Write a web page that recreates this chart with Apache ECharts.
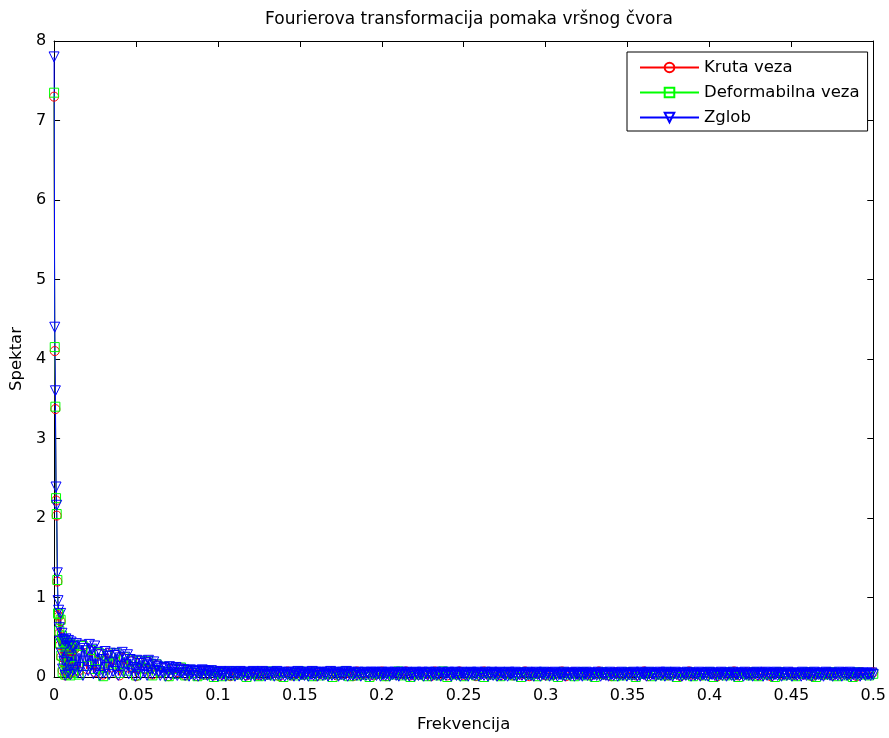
<!DOCTYPE html>
<html>
<head>
<meta charset="utf-8">
<script src="https://cdn.jsdelivr.net/npm/echarts@6/dist/echarts.min.js"></script>
<style>html,body{margin:0;padding:0;background:#fff;}#c{width:889px;height:738px;}</style>
</head>
<body>
<div id="c"></div>
<script>
// ---- data ----
const titleText = 'Fourierova transformacija pomaka vršnog čvora';
const seriesNames = ['Kruta veza', 'Deformabilna veza', 'Zglob'];
// frequency bins: dense head near 0, then regular bins
const freqHead = [0,0.0004,0.0008,0.0012,0.0016,0.002,0.0024,0.0028,0.0032,0.0036,
  0.004,0.0044,0.0048,0.0052,0.0056,0.006,0.0064,0.0068,0.0072,0.0076,
  0.008,0.0084,0.0088,0.0092,0.0096,0.01,0.0104,0.0108,0.0112,0.0116];
const tailStartRG = 0.0125, tailStepRG = 0.0025;  // Kruta / Deformabilna tail bins
const tailStartZ = 0.012, tailStepZ = 0.0008;     // Zglob tail bins

const krutaHead = [7.3,4.1,3.37,2.22,2.03,1.2,0.78,0.76,0.55,0.4,0.7,0.25,0.5,0.08,0.42,0.18,0.4,0.02,0.44,0.15,0.38,0.05,0.41,0.22,0.35,0.04,0.4,0.12,0.33,0.06];
const krutaTail = [0.35,0.08,0.4,0.1,0.33,
  0.06,0.29,0.03,0.3,0.12,0.28,0.02,0.24,
  0.12,0.2,0.01,0.18,0.1,0.19,0.03,0.15,
  0.05,0.12,0.01,0.1,0.06,0.11,
  0.02,0.08,0.05,0.01,0.07,0.03,0.08,0.02,
  0.07,0.03,0.06,0.01,0.05,0.04,0.07,0.02,0.05,0.06,
  0.02,0.07,0.03,0.04,0.06,0.01,0.05,0.07,0.02,0.04,
  0.06,0.03,0.05,0.07,0.01,0.04,0.06,0.03,0.07,0.02,
  0.05,0.04,0.06,0.01,0.07,0.03,0.05,0.06,0.02,0.04,
  0.07,0.01,0.05,0.06,0.03,0.04,0.07,0.02,0.05,0.03,
  0.06,0.04,0.01,0.07,0.03,0.05,0.02,0.06,0.04,0.07,
  0.02,0.05,0.06,0.01,0.04,0.07,0.03,0.05,0.06,0.02,
  0.04,0.06,0.02,0.05,0.03,0.07,0.01,0.06,0.04,0.05,
  0.02,0.06,0.03,0.05,0.07,0.01,0.04,0.06,0.03,0.05,
  0.06,0.02,0.04,0.07,0.03,0.05,0.01,0.06,0.04,0.03,
  0.05,0.06,0.02,0.04,0.07,0.01,0.05,0.03,0.06,0.04,
  0.02,0.06,0.05,0.01,0.04,0.07,0.03,0.05,0.02,0.06,
  0.04,0.05,0.01,0.06,0.03,0.05,0.07,0.02,0.04,0.06,
  0.03,0.05,0.02,0.06,0.04,0.01,0.05,0.06,0.03,0.04,
  0.06,0.02,0.05,0.03,0.06,0.01,0.04,0.05,0.03,0.06,
  0.02,0.05,0.04,0.06,0.03,0.05,0.01,0.06,0.04,0.05,
  0.06];

const deformHead = [7.35,4.15,3.4,2.25,2.05,1.22,0.8,0.79,0.58,0.42,0.72,0.27,0.52,0.06,0.44,0.2,0.42,0.03,0.45,0.13,0.4,0.07,0.43,0.2,0.37,0.02,0.41,0.14,0.35,0.05];
const deformTail = [0.4,0.03,0.39,0.14,0.34,
  0.1,0.3,0.01,0.27,0.17,0.3,0.05,0.25,
  0.08,0.21,0.02,0.2,0.11,0.2,0.02,0.16,
  0.06,0.13,0.01,0.1,0.04,0.12,
  0.02,0.09,0.05,0.01,0.08,0.03,0.08,0.0,
  0.05,0.01,0.06,0.02,0.07,0.03,0.05,0.0,0.06,0.04,
  0.01,0.06,0.03,0.07,0.02,0.05,0.0,0.06,0.04,0.02,
  0.07,0.03,0.05,0.01,0.06,0.02,0.05,0.04,0.0,0.06,
  0.03,0.07,0.01,0.05,0.02,0.06,0.03,0.0,0.05,0.04,
  0.06,0.01,0.05,0.03,0.07,0.02,0.04,0.0,0.06,0.03,
  0.05,0.01,0.06,0.04,0.02,0.07,0.0,0.05,0.03,0.06,
  0.01,0.04,0.06,0.02,0.05,0.0,0.06,0.03,0.05,0.01,
  0.06,0.04,0.02,0.05,0.0,0.06,0.03,0.04,0.01,0.06,
  0.05,0.02,0.04,0.0,0.06,0.03,0.05,0.01,0.04,0.06,
  0.02,0.05,0.0,0.04,0.06,0.03,0.05,0.01,0.04,0.02,
  0.06,0.03,0.0,0.05,0.04,0.06,0.01,0.05,0.03,0.02,
  0.06,0.04,0.0,0.05,0.03,0.06,0.01,0.04,0.05,0.02,
  0.06,0.0,0.04,0.05,0.02,0.06,0.03,0.0,0.05,0.04,
  0.02,0.06,0.01,0.05,0.03,0.04,0.0,0.06,0.02,0.05,
  0.03,0.01,0.05,0.04,0.06,0.02,0.0,0.05,0.03,0.04,
  0.06,0.01,0.05,0.02,0.04,0.0,0.06,0.03,0.05,0.02,
  0.04];

const zglobHead = [7.8,4.4,3.6,2.39,2.16,1.31,0.96,0.84,0.62,0.45,0.8,0.3,0.55,0.1,0.47,0.2,0.45,0.02,0.48,0.18,0.42,0.05,0.46,0.25,0.4,0.03,0.44,0.15,0.38,0.08];
const zglobTail = [
  0.38,0.1,0.42,0.05,0.3,0.12,0.4,0.02,0.36,0.2,0.33,0.08,0.41,0.15,0.35,0.04,0.39,
  0.08,0.31,0.15,0.02,0.28,0.22,0.05,0.32,0.12,0.26,0.03,0.3,0.18,0.07,0.27,0.1,0.29,0.02,0.24,0.13,0.31,0.06,0.25,0.16,0.28,
  0.04,0.22,0.09,0.19,0.12,0.01,0.21,0.09,0.17,0.03,0.2,0.14,0.06,0.18,0.02,0.21,0.1,0.16,0.04,0.19,0.08,0.15,
  0.13,0.07,0.02,0.11,0.05,0.12,0.01,0.1,0.06,0.13,0.03,0.09,0.11,0.04,0.12,0.02,0.08,0.1,0.05,
  0.05,0.09,0.02,0.08,0.06,0.01,0.09,0.04,0.07,0.02,0.08,0.05,0.01,0.07,0.04,0.09,0.03,0.08,0.06,0.02,0.07,0.04,0.08,0.01,0.06,
  0.03,0.06,0.01,0.05,0.07,0.02,0.04,0.06,0.01,0.05,0.03,0.07,0.02,0.05,0.04,0.01,0.06,0.03,0.05,0.07,
  0.02,0.04,0.06,0.01,0.05,0.03,0.06,0.02,0.05,0.07,0.01,0.04,0.06,0.03,0.05,0.02,0.07,0.04,0.01,0.06,
  0.03,0.05,0.02,0.06,0.04,0.01,0.05,0.07,0.03,0.05,0.02,0.06,0.04,0.01,0.05,0.03,0.06,0.02,0.04,0.06,
  0.01,0.05,0.04,0.07,0.01,0.05,0.03,0.06,0.02,0.04,0.06,0.01,0.05,0.03,0.07,0.02,0.04,0.06,0.01,0.05,
  0.04,0.06,0.02,0.05,0.03,0.06,0.01,0.04,0.07,0.02,0.05,0.03,0.06,0.04,0.01,0.05,0.03,0.06,0.02,0.04,
  0.07,0.01,0.05,0.03,0.06,0.02,0.04,0.05,0.02,0.06,0.04,0.01,0.05,0.03,0.06,0.02,0.05,0.04,0.01,0.06,
  0.03,0.05,0.06,0.02,0.04,0.05,0.01,0.06,0.03,0.05,0.02,0.04,0.06,0.01,0.05,0.03,0.04,0.06,0.02,0.05,
  0.01,0.04,0.06,0.03,0.05,0.02,0.06,0.04,0.01,0.05,0.03,0.05,0.01,0.06,0.04,0.02,0.05,0.03,0.06,0.01,
  0.04,0.05,0.02,0.06,0.04,0.01,0.05,0.03,0.06,0.02,0.04,0.05,0.01,0.06,0.03,0.04,0.02,0.05,0.06,0.03,
  0.01,0.05,0.04,0.06,0.02,0.05,0.03,0.01,0.06,0.04,0.05,0.02,0.05,0.01,0.04,0.06,0.03,0.05,0.02,0.04,
  0.06,0.01,0.05,0.03,0.04,0.02,0.06,0.04,0.01,0.05,0.03,0.06,0.02,0.04,0.05,0.01,0.03,0.06,0.02,0.05,
  0.04,0.02,0.05,0.01,0.06,0.03,0.04,0.05,0.02,0.06,0.01,0.04,0.03,0.05,0.02,0.05,0.04,0.01,0.06,0.03,
  0.05,0.02,0.04,0.01,0.05,0.06,0.03,0.04,0.01,0.05,0.03,0.06,0.02,0.04,0.05,0.01,0.03,0.05,0.02,0.06,
  0.04,0.01,0.05,0.03,0.04,0.02,0.06,0.01,0.04,0.05,0.03,0.02,0.05,0.04,0.01,0.06,0.03,0.05,0.02,0.04,
  0.01,0.05,0.03,0.06,0.02,0.04,0.05,0.01,0.04,0.03,0.05,0.02,0.06,0.04,0.01,0.05,0.03,0.04,0.02,0.05,
  0.01,0.06,0.03,0.04,0.02,0.05,0.04,0.01,0.05,0.03,0.06,0.02,0.04,0.05,0.01,0.04,0.03,0.05,0.02,0.06,
  0.03,0.04,0.01,0.05,0.02,0.06,0.04,0.03,0.05,0.01,0.04,0.06,0.02,0.05,0.03,0.04,0.01,0.05,0.03,0.06,
  0.02,0.04,0.05,0.01,0.06,0.03,0.04,0.02,0.05,0.01,0.04,0.06,0.03,0.05,0.02,0.04,0.01,0.05,0.04,0.02,
  0.06,0.03,0.05,0.01,0.04,0.05,0.02,0.04,0.03,0.06,0.01,0.05,0.03,0.04,0.02,0.05,0.01,0.06,0.04,0.03,
  0.05,0.02,0.04,0.01,0.05,0.03,0.06,0.02,0.04,0.05,0.01,0.03,0.05,0.04,0.02,0.06,0.01,0.04,0.03,0.05,
  0.02,0.05,0.04,0.01,0.06,0.03,0.04,0.02,0.05,0.03,0.01,0.05,0.04,0.06,0.02,0.04,0.03,0.05,0.01,0.04,
  0.06,0.02,0.05,0.03,0.04,0.01,0.05,0.03,0.06,0.02,0.04,0.05,0.01,0.04,0.03,0.05,0.02,0.06,0.03,0.04,
  0.01,0.05,0.03,0.04,0.02,0.05,0.04,0.01,0.06,0.03,0.05,0.02,0.04,0.03,0.05,0.01,0.04,0.06,0.02,0.05,
  0.03,0.04,0.02,0.05,0.01,0.04,0.06,0.03,0.05,0.02,0.04,0.01,0.05,0.03,0.04,0.02,0.06,0.04,0.01,0.05,
  0.03,0.05,0.02,0.04,0.06,0.01,0.04,0.03,0.05,0.02,0.04,0.05,0.01,0.03,0.05,0.04,0.02,0.05,0.03,0.04,
  0.02,0.05,0.03];

const xTicks = {min: 0, max: 0.5, interval: 0.05};
const yTicks = {min: 0, max: 8, interval: 1};

// ---- chart ----
function pairs(head, tail, start, step) {
  const xs = freqHead.concat(tail.map((_, i) => +(start + i * step).toFixed(5)));
  const v = head.concat(tail);
  return xs.map((f, i) => [f, v[i]]);
}
const FONT = '"DejaVu Sans", sans-serif';
const chart = echarts.init(document.getElementById('c'), null, {renderer: 'canvas'});

function mk(name, color, symbol, size, rot, data) {
  return {
    name, type: 'line', data, symbol, symbolSize: size, symbolRotate: rot,
    showSymbol: true, clip: false, animation: false, sampling: null,
    lineStyle: {color, width: 1},
    itemStyle: {color: 'rgba(255,255,255,0)', borderColor: color, borderWidth: 1},
    emphasis: {disabled: true}
  };
}

const axisCommon = {
  axisLine: {show: true, onZero: false, lineStyle: {color: '#000', width: 1}},
  axisTick: {show: true, inside: true, length: 6, lineStyle: {color: '#000'}},
  splitLine: {show: false}
};

chart.setOption({
  animation: false,
  backgroundColor: '#fff',
  textStyle: {fontFamily: FONT},
  title: {
    text: titleText, left: 464, top: 6, textAlign: 'center',
    textStyle: {fontFamily: FONT, fontSize: 17, fontWeight: 'normal', color: '#000'}
  },
  grid: {left: 54, right: 14, top: 41, bottom: 50, containLabel: false},
  legend: {
    orient: 'vertical', left: 627, top: 52,
    padding: [7, 8, 5, 12], itemWidth: 59, itemHeight: 12, itemGap: 8,
    borderColor: '#000', borderWidth: 1, backgroundColor: '#fff', borderRadius: 0,
    textStyle: {fontFamily: FONT, fontSize: 16.5, color: '#000'},
    data: seriesNames
  },
  xAxis: [
    Object.assign({
      type: 'value', position: 'bottom', min: xTicks.min, max: xTicks.max, interval: xTicks.interval,
      name: 'Frekvencija', nameLocation: 'middle', nameGap: 39,
      nameTextStyle: {fontFamily: FONT, fontSize: 16.5, color: '#000'},
      axisLabel: {fontFamily: FONT, fontSize: 16, color: '#000', margin: 11,
        formatter: v => String(+v.toFixed(2))}
    }, axisCommon),
    Object.assign({
      type: 'value', position: 'top', min: xTicks.min, max: xTicks.max, interval: xTicks.interval,
      axisLabel: {show: false}
    }, axisCommon)
  ],
  yAxis: [
    Object.assign({
      type: 'value', position: 'left', min: yTicks.min, max: yTicks.max, interval: yTicks.interval,
      name: 'Spektar', nameLocation: 'middle', nameGap: 19,
      nameTextStyle: {fontFamily: FONT, fontSize: 16.5, color: '#000'},
      axisLabel: {fontFamily: FONT, fontSize: 16, color: '#000', margin: 8}
    }, axisCommon),
    Object.assign({
      type: 'value', position: 'right', min: yTicks.min, max: yTicks.max, interval: yTicks.interval,
      axisLabel: {show: false}
    }, axisCommon)
  ],
  series: [
    mk(seriesNames[0], '#ff0000', 'circle', 9, 0, pairs(krutaHead, krutaTail, tailStartRG, tailStepRG)),
    mk(seriesNames[1], '#00ff00', 'rect', 9, 0, pairs(deformHead, deformTail, tailStartRG, tailStepRG)),
    mk(seriesNames[2], '#0000ff', 'triangle', 10, 180, pairs(zglobHead, zglobTail, tailStartZ, tailStepZ))
  ]
});
</script>
</body>
</html>
